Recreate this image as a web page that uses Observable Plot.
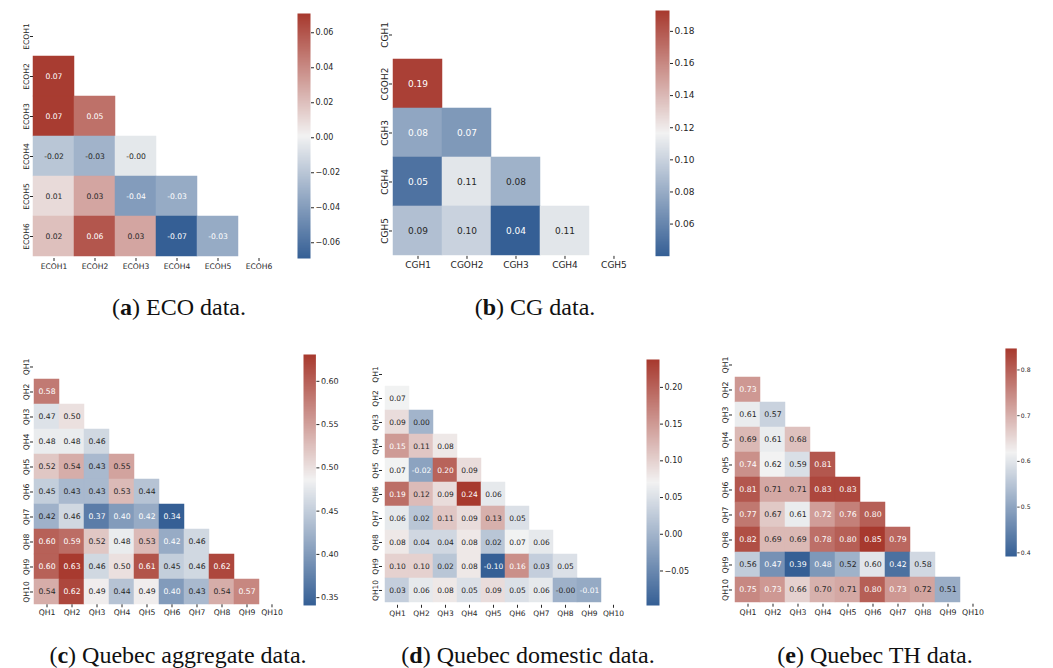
<!DOCTYPE html>
<html><head><meta charset="utf-8">
<script src="https://cdn.jsdelivr.net/npm/d3@7"></script>
<script src="https://cdn.jsdelivr.net/npm/@observablehq/plot@0.6"></script>
<style>
body{margin:0;background:#fff;}
#root{position:relative;width:1053px;height:668px;overflow:hidden;background:#fff;}
.abs{position:absolute;}
.abs svg{overflow:visible;}
.cap{position:absolute;font-family:"Liberation Serif",serif;font-size:24px;color:#111;white-space:nowrap;transform:translate(-50%,-50%);line-height:1;}
</style></head><body><div id="root"></div>
<script>
// ---------- data ----------
const ecoLabels = ["ECOH1","ECOH2","ECOH3","ECOH4","ECOH5","ECOH6"];
const ecoRows = [
  [0.07],
  [0.07, 0.05],
  [-0.02, -0.029, -0.004],
  [0.01, 0.03, -0.04, -0.033],
  [0.02, 0.06, 0.03, -0.07, -0.033]
];
const ecoLimits = [-0.069, 0.071];
const ecoTicks = [-0.06, -0.04, -0.02, 0.00, 0.02, 0.04, 0.06];

const cgXLabels = ["CGH1","CGOH2","CGH3","CGH4","CGH5"];
const cgYLabels = ["CGH1","CGOH2","CGH3","CGH4","CGH5"];
const cgRows = [
  [0.19],
  [0.077, 0.07],
  [0.05, 0.11, 0.083],
  [0.09, 0.10, 0.04, 0.11]
];
const cgLimits = [0.040, 0.193];
const cgTicks = [0.06, 0.08, 0.10, 0.12, 0.14, 0.16, 0.18];

const qhLabels = ["QH1","QH2","QH3","QH4","QH5","QH6","QH7","QH8","QH9","QH10"];

const aggRows = [
  [0.58],
  [0.47, 0.50],
  [0.48, 0.48, 0.46],
  [0.52, 0.54, 0.43, 0.548],
  [0.45, 0.43, 0.43, 0.53, 0.44],
  [0.422, 0.46, 0.37, 0.40, 0.416, 0.34],
  [0.60, 0.59, 0.52, 0.48, 0.53, 0.416, 0.46],
  [0.60, 0.63, 0.46, 0.50, 0.61, 0.45, 0.46, 0.62],
  [0.54, 0.62, 0.49, 0.44, 0.49, 0.40, 0.43, 0.54, 0.57]
];
const aggLimits = [0.341, 0.631];
const aggTicks = [0.35, 0.40, 0.45, 0.50, 0.55, 0.60];

const domRows = [
  [0.07],
  [0.09, 0.00],
  [0.15, 0.11, 0.08],
  [0.07, -0.02, 0.20, 0.09],
  [0.19, 0.12, 0.09, 0.24, 0.06],
  [0.06, 0.02, 0.11, 0.09, 0.13, 0.05],
  [0.08, 0.04, 0.04, 0.08, 0.02, 0.07, 0.06],
  [0.10, 0.10, 0.02, 0.08, -0.10, 0.16, 0.03, 0.05],
  [0.03, 0.06, 0.08, 0.05, 0.09, 0.05, 0.06, -0.004, -0.012]
];
const domLimits = [-0.097, 0.238];
const domTicks = [-0.05, 0.00, 0.05, 0.10, 0.15, 0.20];

const thRows = [
  [0.73],
  [0.61, 0.57],
  [0.69, 0.61, 0.68],
  [0.74, 0.62, 0.59, 0.81],
  [0.81, 0.71, 0.71, 0.83, 0.83],
  [0.77, 0.67, 0.61, 0.724, 0.76, 0.80],
  [0.82, 0.69, 0.69, 0.78, 0.80, 0.85, 0.79],
  [0.56, 0.47, 0.39, 0.48, 0.52, 0.60, 0.42, 0.58],
  [0.75, 0.73, 0.66, 0.70, 0.71, 0.80, 0.73, 0.716, 0.513]
];
const thLimits = [0.392, 0.847];
const thTicks = [0.4, 0.5, 0.6, 0.7, 0.8];

// ---------- styling / layout ----------
const BLUE = "#355f95", MID = "#f2f2f2", RED = "#a7392e";
const DARK = "#262626";

const panels = [
  {letter:"a", caption:" ECO data.", xl:ecoLabels, yl:ecoLabels, rows:ecoRows, lim:ecoLimits, ticks:ecoTicks, fmt:".2f",
   grid:[33,279,13,258], cb:[297,310,13,258], cap:[179,307], fs:7.6, cfs:8},
  {letter:"b", caption:" CG data.", xl:cgXLabels, yl:cgYLabels, rows:cgRows, lim:cgLimits, ticks:cgTicks, fmt:".2f",
   grid:[392,638.7,9.8,255.7], cb:[655,669,10,255.7], cap:[535,307], fs:9, cfs:9},
  {letter:"c", caption:" Quebec aggregate data.", xl:qhLabels, yl:qhLabels, rows:aggRows, lim:aggLimits, ticks:aggTicks, fmt:".2f",
   grid:[33,285,354,604.3], cb:[303.3,315.7,354,605], cap:[178,655], fs:7.7, cfs:8},
  {letter:"d", caption:" Quebec domestic data.", xl:qhLabels, yl:qhLabels, rows:domRows, lim:domLimits, ticks:domTicks, fmt:".2f",
   grid:[382,628.7,359.5,604.3], cb:[646,659,359,605], cap:[528,655], fs:7.5, cfs:8},
  {letter:"e", caption:" Quebec TH data.", xl:qhLabels, yl:qhLabels, rows:thRows, lim:thLimits, ticks:thTicks, fmt:".1f",
   grid:[732,987.6,349.6,603.3], cb:[1005,1019,349.3,605], cap:[875,655], fs:7.8, cfs:7.5}
];

function lum(c){
  const o = d3.rgb(c);
  const f = u => { u /= 255; return u <= 0.03928 ? u/12.92 : Math.pow((u+0.055)/1.055, 2.4); };
  return 0.2126*f(o.r) + 0.7152*f(o.g) + 0.0722*f(o.b);
}

const root = document.getElementById("root");

function place(node, left, top){
  const d = document.createElement("div");
  d.className = "abs";
  d.style.left = left + "px";
  d.style.top = top + "px";
  d.appendChild(node);
  root.appendChild(d);
}

for (const p of panels) {
  const [lo, hi] = p.lim, mid = (lo + hi) / 2;
  const colorOpts = {type:"linear", domain:[lo, mid, hi], range:[BLUE, MID, RED], interpolate:"rgb", clamp:true};
  const cs = d3.scaleLinear().domain([lo, mid, hi]).range([BLUE, MID, RED]).interpolate(d3.interpolateRgb).clamp(true);

  const cells = [];
  p.rows.forEach((row, i) => row.forEach((v, j) => cells.push({x:p.xl[j], y:p.yl[i+1], v})));

  const [gx0, gx1, gy0, gy1] = p.grid;
  const ml = 30, mt = 4, mr = 4, mb = 24;
  const heat = Plot.plot({
    width: ml + (gx1 - gx0) + mr, height: mt + (gy1 - gy0) + mb,
    marginLeft: ml, marginTop: mt, marginRight: mr, marginBottom: mb,
    style: {fontFamily:"DejaVu Sans", fontSize:p.fs + "px", color:DARK, background:"transparent"},
    x: {domain:p.xl, padding:0, label:null},
    y: {domain:p.yl, padding:0, label:null},
    color: colorOpts,
    marks: [
      Plot.cell(cells, {x:"x", y:"y", fill:"v", stroke:"v", strokeWidth:0.5}),
      Plot.text(cells, {x:"x", y:"y", text:d => d.v.toFixed(2), fontSize:p.fs,
        fill:{value:d => lum(cs(d.v)) > 0.408 ? DARK : "#ffffff", scale:null}}),
      Plot.axisX({tickSize:3, tickPadding:2, label:null, fontSize:p.fs}),
      Plot.axisY({tickSize:3, tickPadding:2, tickRotate:-90, label:null, fontSize:p.fs})
    ]
  });
  place(heat, gx0 - ml, gy0 - mt);

  const [cx0, cx1, cy0, cy1] = p.cb;
  const cbar = Plot.plot({
    width: (cx1 - cx0) + 45, height: (cy1 - cy0) + 10,
    marginLeft: 0, marginRight: 45, marginTop: 5, marginBottom: 5,
    style: {fontFamily:"DejaVu Sans", fontSize:p.cfs + "px", color:DARK, background:"transparent"},
    x: {domain:[0, 1], axis:null},
    y: {domain:[lo, hi], axis:null},
    color: colorOpts,
    marks: [
      Plot.raster({x1:0, x2:1, y1:lo, y2:hi, width:1, height:400, fill:(x, y) => y}),
      Plot.axisY({anchor:"right", ticks:p.ticks, tickFormat:d3.format(p.fmt), tickSize:3, tickPadding:2, label:null, fontSize:p.cfs})
    ]
  });
  place(cbar, cx0, cy0 - 5);

  const cap = document.createElement("div");
  cap.className = "cap";
  cap.style.left = p.cap[0] + "px";
  cap.style.top = p.cap[1] + "px";
  cap.innerHTML = "(<b>" + p.letter + "</b>)" + p.caption;
  root.appendChild(cap);
}
</script></body></html>
